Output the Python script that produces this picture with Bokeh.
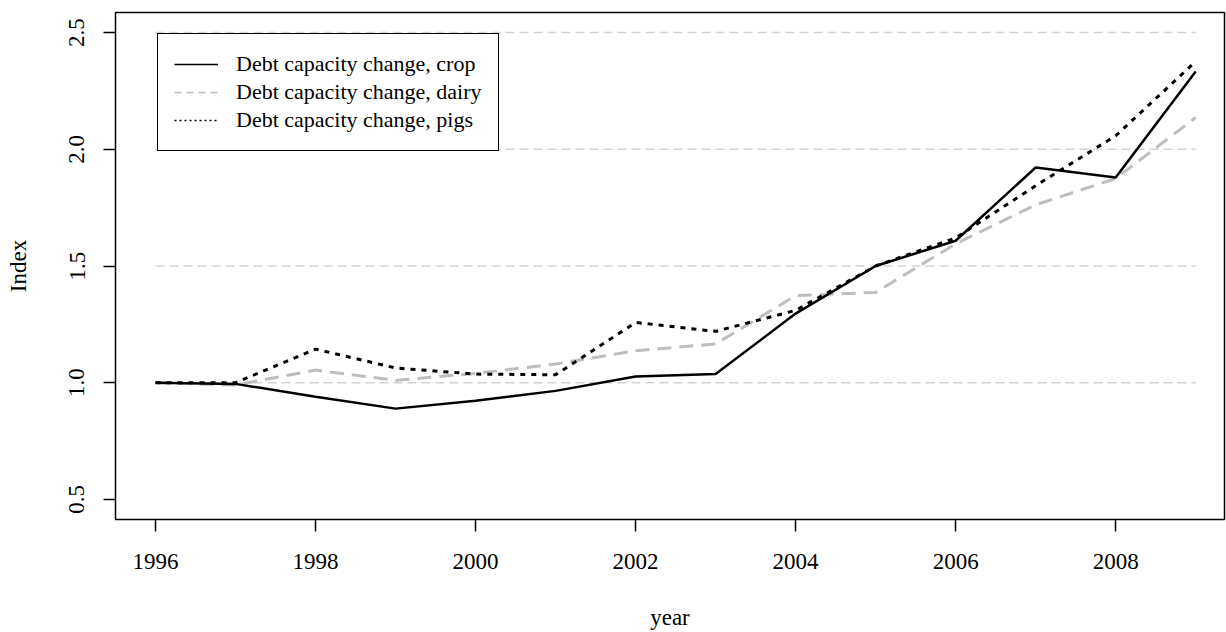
from bokeh.plotting import figure
from bokeh.models import Range1d, FixedTicker, Legend, LegendItem, NumeralTickFormatter
from bokeh.embed import file_html
from bokeh.resources import INLINE

years = list(range(1996, 2010))
crop = [1.0, 0.995, 0.94, 0.889, 0.923, 0.965, 1.027, 1.037, 1.296, 1.5, 1.608, 1.922, 1.879, 2.333]
dairy = [1.0, 0.99, 1.054, 1.01, 1.04, 1.08, 1.137, 1.166, 1.373, 1.387, 1.595, 1.762, 1.875, 2.136]
pigs = [1.0, 1.0, 1.144, 1.063, 1.037, 1.034, 1.258, 1.22, 1.31, 1.5, 1.62, 1.844, 2.058, 2.376]
grid_levels = [1.0, 1.5, 2.0, 2.5]
x_ticks = [1996, 1998, 2000, 2002, 2004, 2006, 2008]
y_ticks = [0.5, 1.0, 1.5, 2.0, 2.5]
labels = ["Debt capacity change, crop", "Debt capacity change, dairy", "Debt capacity change, pigs"]

FONT = "Liberation Serif"
FS = "23px"

p = figure(width=1226, height=632, x_range=Range1d(1995.5, 2009.36), y_range=Range1d(0.414, 2.586),
           output_backend="svg", toolbar_location=None,
           min_border_left=115, min_border_right=2, min_border_top=12, min_border_bottom=113)
p.xgrid.visible = False
p.ygrid.visible = False
p.outline_line_color = "black"
p.outline_line_width = 1.5
p.background_fill_color = "white"
p.border_fill_color = "white"

# horizontal reference lines
p.segment(x0=[years[0]] * len(grid_levels), x1=[years[-1]] * len(grid_levels), y0=grid_levels, y1=grid_levels,
          line_color="#d3d3d3", line_width=1.5, line_dash="9 5")

r_dairy = p.line(years, dairy, line_color="#bebebe", line_width=3, line_dash="14 8")
r_pigs = p.line(years, pigs, line_color="black", line_width=3, line_dash="5 6")
r_crop = p.line(years, crop, line_color="black", line_width=2.5)

# legend glyphs (thin lines as in the original legend); single-point lines draw nothing in the plot
r1 = p.line([years[0]], [crop[0]], line_color="black", line_width=1.5)
r2 = p.line([years[0]], [dairy[0]], line_color="#bebebe", line_width=1.5, line_dash="7 5")
r3 = p.line([years[0]], [pigs[0]], line_color="black", line_width=1.5, line_dash="2 3")
leg = Legend(items=[LegendItem(label=labels[0], renderers=[r1]),
                    LegendItem(label=labels[1], renderers=[r2]),
                    LegendItem(label=labels[2], renderers=[r3])],
             location=(42, 368), margin=0, padding=16, spacing=0,
             label_height=28, glyph_height=28, glyph_width=44, label_standoff=18,
             border_line_color="black", border_line_width=1.5, border_line_alpha=1,
             background_fill_color="white", background_fill_alpha=1,
             label_text_font=FONT, label_text_font_size="22px", label_text_color="black")
p.add_layout(leg)

for ax in (p.xaxis[0], p.yaxis[0]):
    ax.axis_line_color = None
    ax.major_tick_line_color = "black"
    ax.major_tick_line_width = 1.5
    ax.major_tick_out = 12
    ax.major_tick_in = 0
    ax.minor_tick_line_color = None
    ax.major_label_text_font = FONT
    ax.major_label_text_font_size = FS
    ax.major_label_text_color = "black"
    ax.axis_label_text_font = FONT
    ax.axis_label_text_font_size = FS
    ax.axis_label_text_font_style = "normal"
    ax.axis_label_text_color = "black"

p.xaxis.ticker = FixedTicker(ticks=x_ticks)
p.yaxis.ticker = FixedTicker(ticks=y_ticks)
p.yaxis.formatter = NumeralTickFormatter(format="0.0")
p.yaxis.major_label_orientation = "vertical"
p.xaxis.axis_label = "year"
p.yaxis.axis_label = "Index"
p.xaxis.major_label_standoff = 22
p.xaxis.axis_label_standoff = 33
p.yaxis.major_label_standoff = 19
p.yaxis.axis_label_standoff = 36

open("out.html", "w").write(file_html(p, INLINE))
